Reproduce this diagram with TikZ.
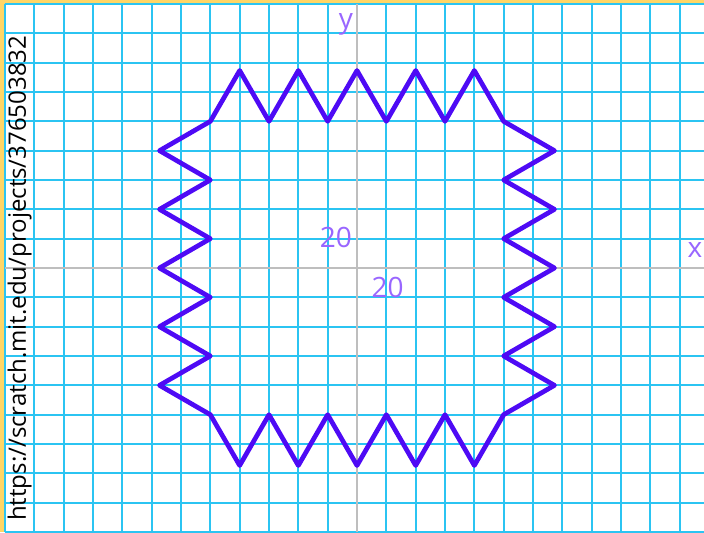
\documentclass[tikz,border=0pt]{standalone}
\usepackage{fontspec}
\setmainfont{Open Sans}
\definecolor{frameyellow}{RGB}{255,214,102}
\definecolor{gridcyan}{RGB}{43,196,242}
\definecolor{axisgray}{RGB}{190,190,190}
\definecolor{penviolet}{RGB}{78,10,245}
\definecolor{labelpurple}{RGB}{153,102,255}

\begin{document}
\begin{tikzpicture}[
  x=1.46667pt, y=1.46667pt,
  font=\fontsize{28}{30}\selectfont,
  gridline/.style={draw=gridcyan, line width=2pt},
  axis/.style={draw=axisgray, line width=1.5pt},
  pen/.style={draw=penviolet, line width=4.7pt, line join=round, line cap=round},
  lbl/.style={text=labelpurple, inner sep=0pt},
  urltext/.style={text=black, inner sep=0pt, rotate=90, anchor=base west,
    font=\fontsize{24}{26}\selectfont}
]

\useasboundingbox (-243.41,-180) rectangle (236.59,182.73);
\clip (-243.41,-180) rectangle (236.59,182.73);

% Stage with its yellow frame.
\fill[frameyellow] (-243.41,-180) rectangle (236.59,182.73);
\fill[white] (-240,-180) rectangle (240,180);

% Grid and axes.
\draw[gridline] (-240,-180) grid[step=20] (240,180);
\draw[axis] (-240,0) -- (240,0);
\draw[axis] (0,-180) -- (0,180);

% Square with zigzag sides (equilateral teeth).
\def\a{100}
\def\b{134.64}
\draw[pen] (-\a,\a)
  -- (-80,\b) -- (-60,\a) -- (-40,\b) -- (-20,\a) -- (0,\b)
  -- (20,\a) -- (40,\b) -- (60,\a) -- (80,\b) -- (\a,\a)
  -- (\b,80) -- (\a,60) -- (\b,40) -- (\a,20) -- (\b,0)
  -- (\a,-20) -- (\b,-40) -- (\a,-60) -- (\b,-80) -- (\a,-\a)
  -- (80,-\b) -- (60,-\a) -- (40,-\b) -- (20,-\a) -- (0,-\b)
  -- (-20,-\a) -- (-40,-\b) -- (-60,-\a) -- (-80,-\b) -- (-\a,-\a)
  -- (-\b,-80) -- (-\a,-60) -- (-\b,-40) -- (-\a,-20) -- (-\b,0)
  -- (-\a,20) -- (-\b,40) -- (-\a,60) -- (-\b,80) -- cycle;

% Axis labels.
\node[lbl, anchor=base] (ylabel) at (-7.5,163) {y};
\node[lbl, anchor=base east] (xlabel) at (235.6,7.5) {x};
\node[lbl, anchor=base east] (ytick) at (-3.4,14.3) {20};
\node[lbl, anchor=base] (xtick) at (20.8,-19.8) {20};

% Project address along the left edge.
\node[urltext] (url) at (-225.7,-172.5) {https://scratch.mit.edu/projects/376503832};

\end{tikzpicture}
\end{document}
